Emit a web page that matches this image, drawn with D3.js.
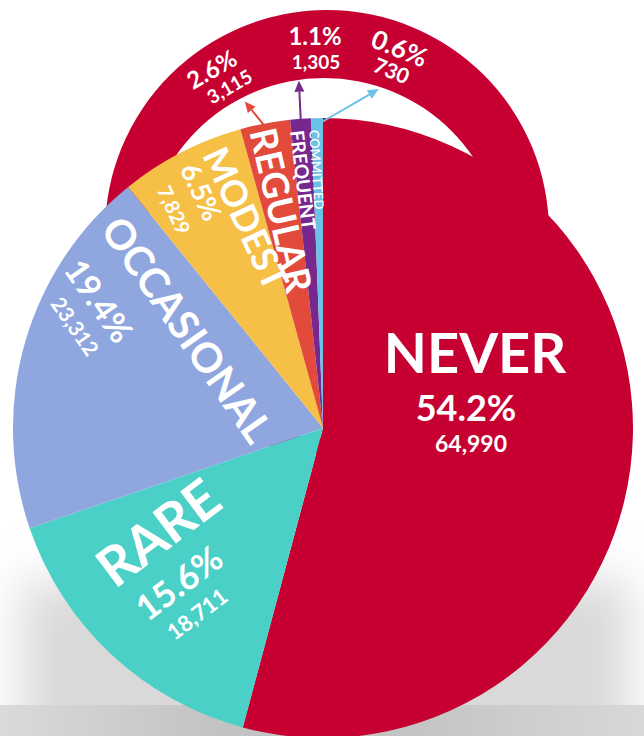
<!DOCTYPE html>
<html>
<head>
<meta charset="utf-8">
<script src="https://cdn.jsdelivr.net/npm/d3@7"></script>
<style>
  html, body { margin: 0; padding: 0; background: #fff; }
  svg { display: block; }
  text { font-family: Lato, "Open Sans", sans-serif; font-weight: 700; fill: #fff; }
</style>
</head>
<body>
<svg class="pieChart"></svg>
<script>
// values
var categories = ['Never', 'Rare', 'Occasional', 'Modest', 'Regular', 'Frequent', 'Committed'];
var counts = [64990, 18711, 23312, 7829, 3115, 1305, 730];
var percents = [54.2, 15.6, 19.4, 6.5, 2.6, 1.1, 0.6];
var colors = ['#c70032', '#4bd0c8', '#8fa6df', '#f6bf45', '#e24a3b', '#77288e', '#6bc1e6'];

var width = 644, height = 736;
var cx = 323, cy = 428, radius = 310;

// label placement: anchor, rotation, then [dx, dy, fontSize] for name / pct / count
var innerLabels = [
  {x: 475, y: 373, rot: 0,   lines: [[0, 0, 56], [-9, 48, 36], [-4, 79, 23]]},
  {x: 170, y: 548, rot: -37, lines: [[0, 0, 54], [-14, 46, 35], [-18, 77, 22]]},
  {x: 175, y: 338, rot: 55,  lines: [[0, 0, 41], [-74, 53, 33], [-67, 83, 21]]},
  {x: 234, y: 224, rot: 65,  lines: [[0, 0, 36], [-43, 26, 27], [-38, 56, 20]]},
  {x: 268, y: 213, rot: 77,  lines: [[0, 0, 37]]},
  {x: 296, y: 181, rot: 83,  lines: [[0, 0, 19]]},
  {x: 312, y: 170, rot: 86,  lines: [[0, 0, 13]], weight: 600}
];

// small slices get their numbers up on the ring, with an arrow
var outerLabels = {
  4: {x: 216, y: 77, rot: -30, lines: [[0, 0, 24], [7, 22, 19]], at: 0.5, tip: [-21, -26]},
  5: {x: 315, y: 45, rot: 0,   lines: [[0, 0, 24], [1, 24, 19]], at: 0.5, tip: [-2, -42]},
  6: {x: 396, y: 57, rot: 22,  lines: [[0, 0, 26], [1, 22, 21]], at: 0.9, tip: [57, -33]}
};

var fmtCount = d3.format(',');
var fmtPct = function(v) { return v.toFixed(1) + '%'; };

var svg = d3.select('.pieChart')
  .attr('width', width)
  .attr('height', height)
  .attr('viewBox', '0 0 ' + width + ' ' + height);

var defs = svg.append('defs');
defs.append('filter').attr('id', 'blur')
  .attr('x', '-20%').attr('y', '-40%').attr('width', '140%').attr('height', '180%')
  .append('feGaussianBlur').attr('stdDeviation', 24);

var floorGrad = defs.append('linearGradient').attr('id', 'floor');
[['0%', '#dadada'], ['35%', '#c2c2c2'], ['62%', '#c3c3c3'], ['100%', '#d8d8d8']].forEach(function(s) {
  floorGrad.append('stop').attr('offset', s[0]).attr('stop-color', s[1]);
});

defs.append('clipPath').attr('id', 'aboveFloor')
  .append('rect').attr('x', 0).attr('y', 0).attr('width', width).attr('height', 705);

// soft shadow under the pie and the floor strip
svg.append('g').attr('clip-path', 'url(#aboveFloor)')
  .append('rect')
  .attr('x', 22).attr('y', 580).attr('width', width - 36).attr('height', 220)
  .attr('fill', '#d9d9d9')
  .attr('filter', 'url(#blur)');

svg.append('rect')
  .attr('x', 0).attr('y', 705).attr('width', width).attr('height', height - 705)
  .attr('fill', 'url(#floor)');

// the handle ring behind the pie
svg.append('circle').attr('cx', 327).attr('cy', 232).attr('r', 222).attr('fill', colors[0]);
svg.append('circle').attr('cx', 324).attr('cy', 258).attr('r', 180).attr('fill', '#fff');

var pie = d3.pie().sort(null).value(function(d) { return d; });
var arcs = pie(counts);

var arc = d3.arc().innerRadius(0).outerRadius(radius);

var chart = svg.append('g').attr('transform', 'translate(' + cx + ',' + cy + ')');

chart.selectAll('path.slice')
  .data(arcs)
  .enter()
  .append('path')
  .attr('class', 'slice')
  .attr('d', arc)
  .attr('fill', function(d, i) { return colors[i]; });

function drawLabel(cfg, texts) {
  var g = svg.append('g')
    .attr('transform', 'translate(' + cfg.x + ',' + cfg.y + ') rotate(' + cfg.rot + ')');
  cfg.lines.forEach(function(l, j) {
    g.append('text')
      .attr('x', l[0]).attr('y', l[1])
      .attr('text-anchor', 'middle')
      .style('font-size', l[2] + 'px')
      .style('font-weight', cfg.weight || 700)
      .text(texts[j]);
  });
}

innerLabels.forEach(function(cfg, i) {
  drawLabel(cfg, [categories[i].toUpperCase(), fmtPct(percents[i]), fmtCount(counts[i])]);
});

Object.keys(outerLabels).forEach(function(k) {
  var i = +k, cfg = outerLabels[k], a = arcs[i];
  drawLabel(cfg, [fmtPct(percents[i]), fmtCount(counts[i])]);

  var ang = a.startAngle + (a.endAngle - a.startAngle) * cfg.at;
  var r0 = radius - 4;
  var x0 = cx + r0 * Math.sin(ang), y0 = cy - r0 * Math.cos(ang);
  var x1 = x0 + cfg.tip[0], y1 = y0 + cfg.tip[1];
  var len = Math.hypot(cfg.tip[0], cfg.tip[1]);
  var ux = cfg.tip[0] / len, uy = cfg.tip[1] / len;
  var head = 11, half = 5;
  var bx = x1 - ux * head, by = y1 - uy * head;

  svg.append('line')
    .attr('x1', x0).attr('y1', y0).attr('x2', bx).attr('y2', by)
    .attr('stroke', colors[i]).attr('stroke-width', 2);
  svg.append('path')
    .attr('d', 'M' + x1 + ',' + y1 +
      'L' + (bx - uy * half) + ',' + (by + ux * half) +
      'L' + (bx + uy * half) + ',' + (by - ux * half) + 'Z')
    .attr('fill', colors[i]);
});
</script>
</body>
</html>
